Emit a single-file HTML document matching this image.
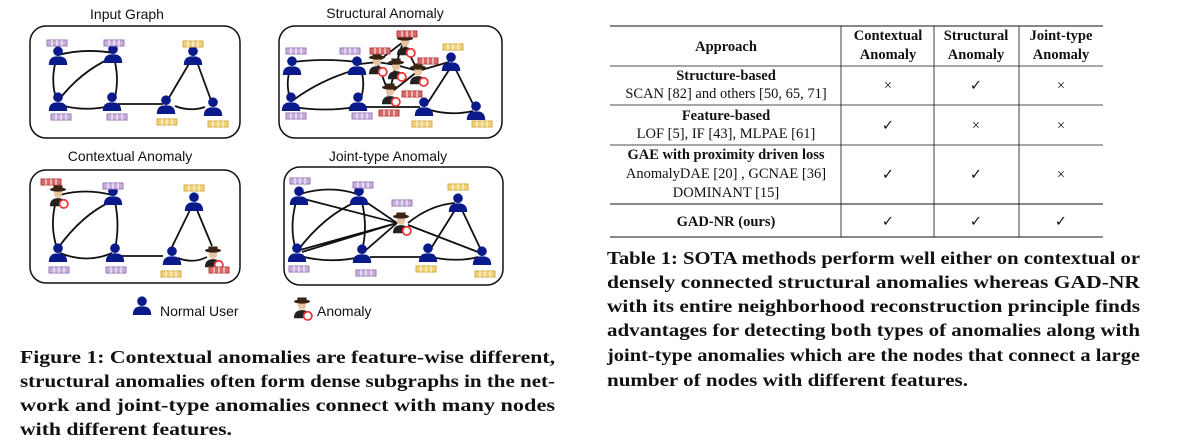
<!DOCTYPE html>
<html><head><meta charset="utf-8"><style>
html,body{margin:0;padding:0;background:#fff;}
svg{display:block;}
.t{font-family:"Liberation Sans",sans-serif;font-size:14px;fill:#111;}
.cap{font-family:"Liberation Serif",serif;font-weight:bold;font-size:18px;fill:#111;}
.tb{font-family:"Liberation Serif",serif;font-size:14.5px;fill:#111;}
.tbb{font-family:"Liberation Serif",serif;font-size:14.5px;font-weight:bold;fill:#111;}
.e{fill:none;stroke:#111;stroke-width:1.8;}
</style></head><body>
<svg width="1178" height="448" viewBox="0 0 1178 448" xmlns="http://www.w3.org/2000/svg">
<defs>
<g id="p"><g transform="scale(1.15)"><circle cx="0" cy="-5" r="4.2" fill="#0a1a8a"/><path d="M-8,7 Q-8,-1 0,-0.5 Q8,-1 8,7 Z" fill="#0a1a8a"/></g></g>
<g id="a"><g transform="scale(1.15)"><circle cx="0" cy="-3" r="3.6" fill="#e8c3a0"/><ellipse cx="0" cy="-6.5" rx="7" ry="1.8" fill="#3a2414"/><rect x="-4" y="-10" width="8" height="4" fill="#3a2414"/><path d="M-7,8 Q-7,1 0,1 Q7,1 7,8 Z" fill="#222"/><circle cx="5" cy="6" r="3.6" fill="#fff" stroke="#e33" stroke-width="1.5"/></g></g>
<g id="bp"><rect x="0" y="0" width="20" height="6" fill="#c8b0dc" stroke="#9a78b8" stroke-width="1"/><path d="M5,0V6M10,0V6M15,0V6" stroke="#fff" stroke-width="1"/></g>
<g id="by"><rect x="0" y="0" width="20" height="6" fill="#f0d27a" stroke="#d4aa40" stroke-width="1"/><path d="M5,0V6M10,0V6M15,0V6" stroke="#fff" stroke-width="1"/></g>
<g id="br"><rect x="0" y="0" width="20" height="6" fill="#d86a6a" stroke="#b84040" stroke-width="1"/><path d="M5,0V6M10,0V6M15,0V6" stroke="#fff" stroke-width="1"/></g>
</defs>

<text class="t" x="127" y="19" text-anchor="middle">Input Graph</text>
<text class="t" x="385" y="18" text-anchor="middle">Structural Anomaly</text>
<text class="t" x="130" y="161" text-anchor="middle">Contextual Anomaly</text>
<text class="t" x="388" y="161" text-anchor="middle">Joint-type Anomaly</text>

<rect x="30" y="26" width="210" height="112" rx="16" fill="none" stroke="#111" stroke-width="1.5"/>
<rect x="279" y="26" width="223" height="112" rx="16" fill="none" stroke="#111" stroke-width="1.5"/>
<rect x="30" y="170" width="210" height="113" rx="16" fill="none" stroke="#111" stroke-width="1.5"/>
<rect x="284" y="167" width="219" height="118" rx="16" fill="none" stroke="#111" stroke-width="1.5"/>

<path class="e" d="M58,55 Q85,48 113,53 M56,60 Q50,82 57,101 M58,101 Q80,72 111,58 M114,58 Q120,80 114,101 M60,105 Q85,112 110,106 M118,104 L163,104 M167,101 L190,62 M197,62 L212,103 M175,106 Q190,112 205,107"/>
<use href="#p" x="58" y="57"/><use href="#p" x="113" y="55"/><use href="#p" x="193" y="57"/>
<use href="#p" x="58" y="103"/><use href="#p" x="112" y="103"/><use href="#p" x="166" y="106"/><use href="#p" x="213" y="108"/>
<use href="#bp" x="47" y="40"/><use href="#bp" x="104" y="40"/><use href="#by" x="183" y="41"/>
<use href="#bp" x="51" y="114"/><use href="#bp" x="107" y="114"/><use href="#by" x="157" y="119"/><use href="#by" x="208" y="121"/>

<path class="e" d="M293,62 Q325,58 357,62 M290,70 Q285,85 291,101 M292,101 Q320,80 355,70 M361,70 Q366,85 360,101 M293,107 Q325,112 356,107 M362,107 L420,107 M427,104 L449,70 M455,68 L475,108 M430,110 Q452,116 473,111 M360,64 L377,62 L403,42 L418,71 L396,65 L377,62 M403,42 L396,65 L389,94 L418,71 M377,62 L389,94 M418,71 L449,62"/>
<use href="#p" x="292" y="67"/><use href="#p" x="357" y="67"/><use href="#p" x="451" y="63"/>
<use href="#p" x="291" y="103"/><use href="#p" x="358" y="103"/><use href="#p" x="424" y="108"/><use href="#p" x="476" y="112"/>
<use href="#a" x="377" y="65"/><use href="#a" x="396" y="70"/><use href="#a" x="418" y="75"/><use href="#a" x="405" y="46"/><use href="#a" x="390" y="95"/>
<use href="#bp" x="286" y="48"/><use href="#bp" x="340" y="48"/><use href="#br" x="370" y="48"/><use href="#br" x="397" y="31"/>
<use href="#br" x="418" y="58"/><use href="#by" x="443" y="44"/><use href="#br" x="402" y="91"/><use href="#br" x="379" y="110"/>
<use href="#bp" x="286" y="113"/><use href="#bp" x="352" y="113"/><use href="#by" x="412" y="121"/><use href="#by" x="472" y="121"/>

<path class="e" d="M60,195 Q85,188 112,195 M55,205 Q50,228 57,248 M58,248 Q82,215 110,202 M115,202 Q120,225 115,249 M60,253 Q87,264 112,253 M120,256 L163,256 M170,251 L190,210 M197,210 L212,246 M178,258 Q193,264 207,257"/>
<use href="#a" x="58" y="197"/><use href="#p" x="113" y="197"/><use href="#p" x="194" y="203"/>
<use href="#p" x="58" y="254"/><use href="#p" x="115" y="254"/><use href="#p" x="172" y="257"/><use href="#a" x="213" y="258"/>
<use href="#br" x="41" y="179"/><use href="#bp" x="103" y="183"/><use href="#by" x="184" y="185"/>
<use href="#bp" x="49" y="267"/><use href="#bp" x="106" y="267"/><use href="#by" x="161" y="271"/><use href="#br" x="209" y="267"/>

<path class="e" d="M300,194 Q330,185 357,194 M296,202 Q289,228 296,250 M298,250 Q325,215 356,202 M362,202 Q368,228 362,250 M300,256 Q330,264 360,257 M370,257 L423,257 M430,250 L455,210 M462,210 L481,250 M436,258 Q460,262 478,257 M304,199 L397,223 M302,252 L397,223 M366,202 L397,223 M366,250 L397,223 M300,250 L397,223 M408,223 Q430,205 455,203 M408,225 L478,252"/>
<use href="#p" x="299" y="197"/><use href="#p" x="359" y="197"/><use href="#p" x="458" y="204"/>
<use href="#p" x="297" y="254"/><use href="#p" x="362" y="255"/><use href="#p" x="428" y="254"/><use href="#p" x="482" y="257"/>
<use href="#a" x="401" y="224"/>
<use href="#bp" x="290" y="178"/><use href="#bp" x="353" y="182"/><use href="#by" x="448" y="184"/><use href="#bp" x="392" y="200"/>
<use href="#bp" x="289" y="266"/><use href="#bp" x="356" y="270"/><use href="#by" x="416" y="266"/><use href="#by" x="475" y="271"/>

<use href="#p" x="142" y="307"/><text class="t" x="160" y="316">Normal User</text>
<use href="#a" x="302" y="309"/><text class="t" x="317" y="316">Anomaly</text>

<text class="cap" x="20" y="363" textLength="535" lengthAdjust="spacingAndGlyphs">Figure 1: Contextual anomalies are feature-wise different,</text>
<text class="cap" x="20" y="387" textLength="535" lengthAdjust="spacingAndGlyphs">structural anomalies often form dense subgraphs in the net-</text>
<text class="cap" x="20" y="411" textLength="535" lengthAdjust="spacingAndGlyphs">work and joint-type anomalies connect with many nodes</text>
<text class="cap" x="20" y="435" textLength="212" lengthAdjust="spacingAndGlyphs">with different features.</text>

<g stroke="#111">
<line x1="610" y1="26" x2="1103" y2="26" stroke-width="1"/>
<line x1="610" y1="66" x2="1103" y2="66" stroke-width="0.8"/>
<line x1="610" y1="105" x2="1103" y2="105" stroke-width="0.8"/>
<line x1="610" y1="145" x2="1103" y2="145" stroke-width="0.8"/>
<line x1="610" y1="204" x2="1103" y2="204" stroke-width="1"/>
<line x1="610" y1="237" x2="1103" y2="237" stroke-width="1"/>
<line x1="841" y1="26" x2="841" y2="237" stroke-width="0.8"/>
<line x1="934" y1="26" x2="934" y2="237" stroke-width="0.8"/>
<line x1="1019" y1="26" x2="1019" y2="237" stroke-width="0.8"/>
</g>
<text class="tbb" x="726" y="51" text-anchor="middle">Approach</text>
<text class="tbb" x="888" y="40" text-anchor="middle">Contextual</text>
<text class="tbb" x="888" y="59" text-anchor="middle">Anomaly</text>
<text class="tbb" x="976" y="40" text-anchor="middle">Structural</text>
<text class="tbb" x="976" y="59" text-anchor="middle">Anomaly</text>
<text class="tbb" x="1061" y="40" text-anchor="middle">Joint-type</text>
<text class="tbb" x="1061" y="59" text-anchor="middle">Anomaly</text>

<text class="tbb" x="726" y="80" text-anchor="middle">Structure-based</text>
<text class="tb" x="726" y="98" text-anchor="middle">SCAN [82] and others [50, 65, 71]</text>
<text class="tbb" x="726" y="120" text-anchor="middle">Feature-based</text>
<text class="tb" x="726" y="138" text-anchor="middle">LOF [5], IF [43], MLPAE [61]</text>
<text class="tbb" x="726" y="159" text-anchor="middle">GAE with proximity driven loss</text>
<text class="tb" x="726" y="178" text-anchor="middle">AnomalyDAE [20] , GCNAE [36]</text>
<text class="tb" x="726" y="197" text-anchor="middle">DOMINANT [15]</text>
<text class="tbb" x="726" y="226" text-anchor="middle">GAD-NR (ours)</text>

<g class="tb" text-anchor="middle">
<text x="888" y="90">×</text><text x="976" y="90">✓</text><text x="1061" y="90">×</text>
<text x="888" y="130">✓</text><text x="976" y="130">×</text><text x="1061" y="130">×</text>
<text x="888" y="179">✓</text><text x="976" y="179">✓</text><text x="1061" y="179">×</text>
<text x="888" y="226">✓</text><text x="976" y="226">✓</text><text x="1061" y="226">✓</text>
</g>

<text class="cap" x="607" y="264" textLength="533" lengthAdjust="spacingAndGlyphs">Table 1: SOTA methods perform well either on contextual or</text>
<text class="cap" x="607" y="288" textLength="533" lengthAdjust="spacingAndGlyphs">densely connected structural anomalies whereas GAD-NR</text>
<text class="cap" x="607" y="312" textLength="533" lengthAdjust="spacingAndGlyphs">with its entire neighborhood reconstruction principle finds</text>
<text class="cap" x="607" y="336" textLength="533" lengthAdjust="spacingAndGlyphs">advantages for detecting both types of anomalies along with</text>
<text class="cap" x="607" y="361" textLength="533" lengthAdjust="spacingAndGlyphs">joint-type anomalies which are the nodes that connect a large</text>
<text class="cap" x="607" y="386" textLength="361" lengthAdjust="spacingAndGlyphs">number of nodes with different features.</text>
</svg>
</body></html>
